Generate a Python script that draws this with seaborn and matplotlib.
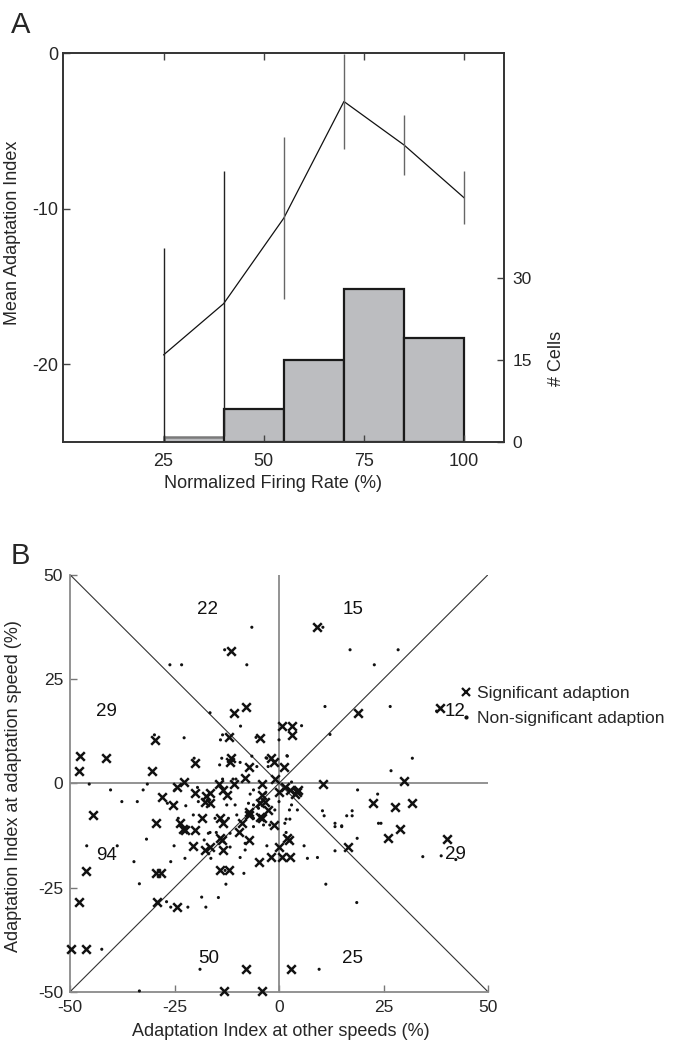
import numpy as np
import pandas as pd
import matplotlib
matplotlib.use("Agg")
import matplotlib.pyplot as plt
from matplotlib import font_manager
from matplotlib.lines import Line2D
import seaborn as sns

# ---------------- data: panel A ----------------
rate_bins = [25, 40, 55, 70, 85, 100]
mean_index = [-19.4, -16.1, -10.6, -3.1, -5.9, -9.3]
mean_err = [6.9, 8.5, 5.2, 3.05, 1.93, 1.7]
hist_edges = [25, 40, 55, 70, 85, 100]
hist_counts = [1, 6, 15, 28, 19]
a_xticks = [25, 50, 75, 100]
a_yticks = [0, -10, -20]
a_y2ticks = [0, 15, 30]

# ---------------- data: panel B ----------------
sig_x = [-11.5, 9.0, 19.0, 38.5, 0.6, 3.2, 3.0, -4.5, -1.8, -1.2, 1.2, -1.0, 10.6, 30.0,
         -8.0, -10.7, -11.9, -11.6, -11.7, -7.2, -8.1, -29.7, -47.6, -41.4, -47.8, -30.5,
         -20.1, -22.8,
         -24.5, -28.1, -20.1, -17.5, -17.7, -14.3, -10.7, -4.1, -16.5, -13.5, -12.5, -4.1,
         1.4, 2.6, 4.6, 3.8, 0.1, 4.2, -25.3, -44.6, -29.5, -23.7, -22.9, -20.1, -22.5,
         -18.5, -20.5, -17.7, -16.6, -46.2, -29.5, -28.2, -47.8, -29.1, -24.3, -16.5,
         -4.5, -3.3, -2.6, -7.1, -4.5, -4.1, -14.0, -13.5, -8.9, -1.2, -9.5, -14.1, -13.7,
         -7.1, -13.5, -4.9, -2.0, -14.0, -11.9, -7.1, 0.0, 2.0, 2.5, 0.6, 2.6, 16.6,
         22.6, 27.8, 31.7, 28.9, 26.1, 40.3, -49.8, -46.2, -8.0, 2.9, -13.2, -4.0]
sig_y = [31.7, 37.4, 16.9, 18.0, 13.8, 13.8, 11.6, 10.9, 6.0, 5.0, 4.0, 1.0, -0.2, 0.6,
         18.2, 16.9, 11.0, 6.0, 5.2, 4.0, 1.2, 10.4, 6.5, 6.0, 3.0, 3.0,
         4.8, 0.4,
         -1.0, -3.2, -2.4, -3.0, -4.4, -0.2, -0.2, -0.2, -2.4, -1.6, -2.8, -2.8,
         -0.8, -1.6, -1.6, -2.6, -2.0, -2.0, -5.2, -7.6, -9.6, -9.6, -11.0, -11.2, -11.2,
         -8.4, -15.0, -16.0, -15.2, -21.0, -21.6, -21.6, -28.4, -28.4, -29.7, -4.8,
         -4.8, -4.4, -6.4, -7.6, -8.0, -8.4, -8.4, -9.6, -9.6, -10.0, -11.8, -13.2, -13.6,
         -13.6, -16.0, -18.8, -17.8, -20.9, -20.9, -6.8, -15.4, -13.2, -13.6, -17.8, -17.8, -15.2,
         -4.8, -5.6, -4.8, -11.0, -13.2, -13.4, -39.8, -39.8, -44.6, -44.6, -49.8, -49.8]

ns_x = [-13.0, 10.5, 37.7, 5.4, 0.0, -3.1, 1.9, 3.0, 11.0, 17.0, 22.8, 28.5, 12.2, 26.6,
        31.9, 26.8, 18.8, 23.6, 16.2, 17.5, 17.5, 15.0, 23.8, 24.4, 18.7, 38.8, 42.3, 34.4,
        9.2, 11.2, 18.6, 0.0, 3.0, 4.4, 2.5, 1.7, 2.6, 1.4, 1.7, 6.0, 6.8, 10.4, 10.8,
        13.4, 13.4, 15.0, 13.4, -7.7, -6.5, -16.5, -9.2, -13.5, -14.0, -5.5, -6.5, -13.7,
        -14.2, -9.3, -5.3, -2.9, 2.0, -2.6, -10.3, -11.0, -13.5, -6.9, -6.1, -26.1, -23.3,
        -29.8, -22.7, -20.3, -45.4, -40.3, -32.5, -31.5, -19.5, -26.7, -24.9, -37.6, -33.9,
        -22.3, -19.3, -20.5, -24.1, -16.9, -31.7, -17.9, -25.1, -22.5, -46.0, -38.7, -34.7,
        -25.9, -33.4, -26.9, -25.9, -21.8, -17.5, -18.5, -3.3, -7.3, -6.1, -4.9, -1.0,
        -12.5, -10.5, -15.3, -12.1, -10.1, -6.1, -3.7, -2.2, -6.1, -11.7, -16.5, -15.0,
        -8.1, -11.7, -8.1, -2.9, -16.3, -9.3, -12.9, -8.4, -12.7, -14.5, -42.4, -18.9,
        9.6, -33.4]
ns_y = [32.0, 37.4, 17.3, 13.8, 10.4, 6.1, 6.6, 0.3, 18.4, 32.0, 28.4, 32.0, 11.7, 18.4,
        6.0, 3.0, -1.6, -2.6, -7.8, -7.8, -6.6, -10.4, -9.6, -9.6, -13.2, -17.4, -18.3, -17.6,
        -17.8, -24.2, -28.6, -4.4, -5.2, -6.4, -6.4, -8.6, -8.6, -9.6, -11.8, -15.0, -18.0, -6.6, -7.8,
        -9.6, -10.4, -10.2, -16.2, 28.4, 37.4, 16.9, 13.7, 11.6, 10.4, 11.0, 6.5, 6.0,
        4.4, 5.0, 4.0, 6.0, 6.5, 4.0, 1.0, 1.0, 1.0, -2.6, -1.6, 28.4, 28.4,
        11.6, 10.9, 6.0, -0.2, -1.6, -1.6, -0.2, -1.0, -4.8, -1.6, -4.4, -4.4,
        -5.4, -4.4, -7.6, -8.4, -12.0, -13.4, -13.6, -15.0, -18.0, -15.0, -15.0, -18.8,
        -18.8, -24.1, -28.4, -29.7, -29.7, -29.7, -27.3, -2.4, -4.8, -5.2, -6.0, -6.4,
        -5.2, -5.2, -8.4, -8.4, -7.6, -8.4, -10.0, -10.0, -10.4, -12.0, -11.8, -11.8,
        -14.4, -15.3, -16.0, -15.0, -18.0, -17.8, -20.9, -21.6, -24.2, -27.4, -39.8, -44.6,
        -44.6, -49.8]

region_counts = ["22", "15", "29", "12", "94", "29", "50", "25"]
region_x = [-17.0, 17.7, -41.2, 42.1, -41.2, 42.1, -16.9, 17.6]
region_y = [41.6, 41.6, 17.2, 17.2, -17.4, -17.2, -42.0, -42.0]
b_ticks = [-50, -25, 0, 25, 50]

# ---------------- style ----------------
sns.set_style("ticks")
plt.rcParams["font.family"] = ["Liberation Sans", "DejaVu Sans"]
plt.rcParams["axes.unicode_minus"] = False
names = {f.name for f in font_manager.fontManager.ttflist}
narrow = "Liberation Sans Narrow" if "Liberation Sans Narrow" in names else "Liberation Sans"

LABEL_FS = 13.0
fig = plt.figure(figsize=(6.8, 10.42), dpi=100)

# ================= Panel A =================
axA = fig.add_axes([63.3 / 680, 1 - 442 / 1042, 441 / 680, 388.7 / 1042])
axA2 = axA.twinx()

sns.histplot(x=[(hist_edges[i] + hist_edges[i + 1]) / 2 for i in range(len(hist_counts))],
             weights=hist_counts, bins=hist_edges, ax=axA2, color="#bcbdc0",
             edgecolor="#1a1a1a", linewidth=1.6, alpha=1.0)
if axA2.patches:
    axA2.patches[0].set_edgecolor("#7a7a7a")
    axA2.patches[0].set_linewidth(1.8)
axA2.set_ylim(0, 71)
axA2.set_yticks(a_y2ticks)
axA2.set_ylabel("# Cells", fontsize=LABEL_FS, rotation=90)
axA2.yaxis.set_label_coords(1.099, 0.216)
axA2.tick_params(axis="y", direction="in", length=5, labelsize=12.5, width=1, color="#444",
                 pad=6)

df_line = pd.DataFrame({"rate": rate_bins, "mean": mean_index})
sns.lineplot(data=df_line, x="rate", y="mean", ax=axA, color="#111111", linewidth=0.9)
for xv, m, e, c in zip(rate_bins, mean_index, mean_err,
                       ["#222", "#222", "#666", "#666", "#666", "#666"]):
    axA.vlines(xv, m - e, m + e, color=c, linewidth=1.0)
axA.set_zorder(axA2.get_zorder() + 1)
axA.patch.set_visible(False)

axA.set_xlim(0, 110)
axA.set_ylim(-25, 0)
axA.set_xticks(a_xticks)
axA.set_yticks(a_yticks)
axA.tick_params(axis="both", direction="in", length=5, width=1, color="#444",
                top=True, labelsize=13)
axA.tick_params(axis="x", pad=8)
for lab in axA.get_xticklabels() + axA.get_yticklabels():
    lab.set_family(narrow)
axA.set_xlabel("Normalized Firing Rate (%)", fontsize=LABEL_FS)
axA.xaxis.set_label_coords(0.475, -0.085)
axA.set_ylabel("Mean Adaptation Index", fontsize=LABEL_FS)
axA.yaxis.set_label_coords(-0.095, 0.538)
for ax in (axA, axA2):
    for s in ax.spines.values():
        s.set_visible(True)
        s.set_color("#333333")
        s.set_linewidth(1.2)

fig.text(11 / 680, 1 - 25 / 1042, "A", fontsize=21, family=narrow, va="center", ha="left")

# ================= Panel B =================
axB = fig.add_axes([70 / 680, 1 - 991.8 / 1042, 418 / 680, 417.1 / 1042])
lim = [-50, 50]
axB.plot(lim, lim, color="#333333", linewidth=0.8, zorder=1)
axB.plot(lim, lim[::-1], color="#333333", linewidth=0.8, zorder=1)
axB.axhline(0, color="#8a8a8a", linewidth=1.3, zorder=1)
axB.axvline(0, color="#8a8a8a", linewidth=1.3, zorder=1)

df_sig = pd.DataFrame({"x": sig_x, "y": sig_y})
df_ns = pd.DataFrame({"x": ns_x, "y": ns_y})
sns.scatterplot(data=df_sig, x="x", y="y", ax=axB, marker="x", s=38, color="#111111",
                linewidth=1.8, zorder=3, clip_on=False)
sns.scatterplot(data=df_ns, x="x", y="y", ax=axB, marker="o", s=5, color="#111111",
                edgecolor="none", linewidth=0, zorder=3, clip_on=False)

for t, xv, yv in zip(region_counts, region_x, region_y):
    axB.text(xv, yv, t, fontsize=13.5, ha="center", va="center", color="#111111")

axB.set_xlim(-50, 50)
axB.set_ylim(-50, 50)
axB.set_xticks(b_ticks)
axB.set_yticks(b_ticks)
axB.tick_params(axis="both", direction="in", length=5, width=1, color="#777777", labelsize=12.5)
axB.tick_params(axis="x", pad=6)
axB.tick_params(axis="y", pad=5)
sns.despine(ax=axB)
for s in ("left", "bottom"):
    axB.spines[s].set_color("#8a8a8a")
    axB.spines[s].set_linewidth(1.3)
axB.set_xlabel("Adaptation Index at other speeds (%)", fontsize=LABEL_FS)
axB.xaxis.set_label_coords(0.504, -0.075)
axB.set_ylabel("Adaptation Index at adaptation speed (%)", fontsize=LABEL_FS)
axB.yaxis.set_label_coords(-0.115, 0.494)

handles = [Line2D([], [], marker="x", linestyle="none", color="#111111", markersize=6,
                  markeredgewidth=1.6),
           Line2D([], [], marker="o", linestyle="none", color="#111111", markersize=2)]
axB.legend(handles, ["Significant adaption", "Non-significant adaption"],
           loc="upper left", bbox_to_anchor=(0.91, 0.75), frameon=False, fontsize=12.6,
           handletextpad=0.1, handlelength=1.0, labelspacing=0.55, borderaxespad=0)

fig.text(11 / 680, 1 - 556 / 1042, "B", fontsize=21, family=narrow, va="center", ha="left")

fig.savefig("out.png", dpi=100)
